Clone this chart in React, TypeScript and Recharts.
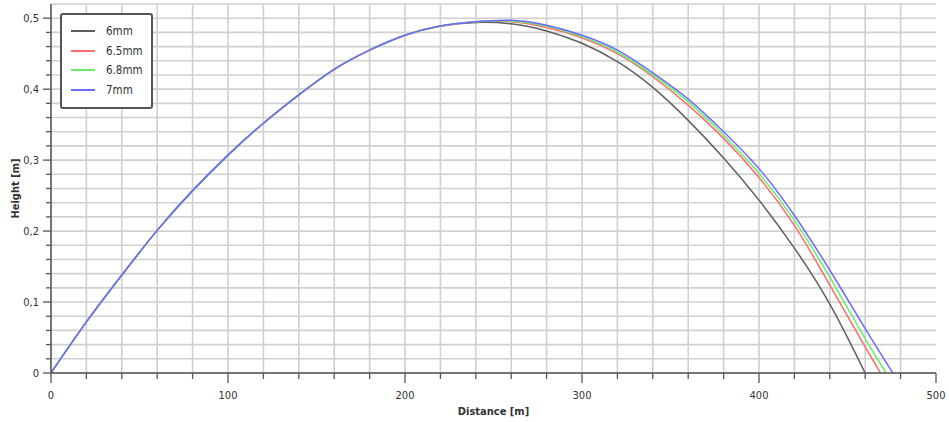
import React from 'react';
import { LineChart, Line, XAxis, YAxis, CartesianGrid, Legend, Label } from 'recharts';

// distance samples [m]
const distances = [0, 20, 40, 60, 80, 100, 120, 140, 160, 180, 200, 220, 240, 260, 280, 300, 320, 340, 360, 380, 400, 420, 440, 460];

// heights [m] per pellet size
const height6mm = [0, 0.072, 0.138, 0.201, 0.257, 0.307, 0.352, 0.392, 0.428, 0.455, 0.476, 0.489, 0.494, 0.492, 0.482, 0.4646, 0.4387, 0.4025, 0.356, 0.303, 0.2436, 0.176, 0.097, 0];
const height65mm = [0, 0.072, 0.138, 0.201, 0.257, 0.307, 0.352, 0.392, 0.428, 0.455, 0.476, 0.489, 0.495, 0.495, 0.487, 0.4725, 0.45, 0.4175, 0.3775, 0.3306, 0.2756, 0.208, 0.124, 0.0367];
const height68mm = [0, 0.072, 0.138, 0.201, 0.257, 0.307, 0.352, 0.392, 0.428, 0.455, 0.476, 0.489, 0.495, 0.496, 0.489, 0.474, 0.452, 0.42, 0.382, 0.335, 0.281, 0.215, 0.135, 0.0485];
const height7mm = [0, 0.072, 0.138, 0.201, 0.257, 0.307, 0.352, 0.392, 0.428, 0.455, 0.476, 0.489, 0.495, 0.497, 0.49, 0.476, 0.455, 0.423, 0.386, 0.34, 0.288, 0.222, 0.145, 0.0626];

const seriesNames = ['6mm', '6.5mm', '6.8mm', '7mm'];
const seriesHeights = [height6mm, height65mm, height68mm, height7mm];
const landingDistance = [460, 468.7, 471.8, 475.6];
const seriesColors = ['#5f5f5f', '#ff6a6a', '#66ee66', '#6b6bff'];

const xTicks = [0, 20, 40, 60, 80, 100, 120, 140, 160, 180, 200, 220, 240, 260, 280, 300, 320, 340, 360, 380, 400, 420, 440, 460, 480, 500];
const yTicks = [0, 0.02, 0.04, 0.06, 0.08, 0.1, 0.12, 0.14, 0.16, 0.18, 0.2, 0.22, 0.24, 0.26, 0.28, 0.3, 0.32, 0.34, 0.36, 0.38, 0.4, 0.42, 0.44, 0.46, 0.48, 0.5];
const gridX = xTicks.filter((v) => v < 500);

const series = seriesNames.map((name, s) => {
  const pts = distances.map((x, i) => ({ x, y: seriesHeights[s][i] }));
  const last = pts[pts.length - 1];
  if (landingDistance[s] > last.x) pts.push({ x: landingDistance[s], y: 0 });
  return { name, color: seriesColors[s], data: pts };
});

const FONT = '"DejaVu Sans Condensed", "DejaVu Sans", sans-serif';
const AXIS = '#555';

const XTick = (props: any) => {
  const { x, y, payload } = props;
  const v = payload.value;
  const major = v % 100 === 0;
  return (
    <g>
      <line x1={x} x2={x} y1={y} y2={y + (major ? 10 : 6)} stroke={AXIS} strokeWidth={1.3} />
      {major && (
        <text x={x} y={y + 22} dy="0.36em" textAnchor="middle" fontFamily={FONT} fontSize={11} fill="#333">
          {v}
        </text>
      )}
    </g>
  );
};

const YTick = (props: any) => {
  const { x, y, payload } = props;
  const v = payload.value;
  const major = Math.abs(v * 10 - Math.round(v * 10)) < 1e-6;
  const label = v === 0 ? '0' : v.toFixed(1).replace('.', ',');
  return (
    <g>
      <line x1={x - (major ? 8 : 5)} x2={x} y1={y} y2={y} stroke={AXIS} strokeWidth={1.3} />
      {major && (
        <text x={x - 12} y={y} dy="0.36em" textAnchor="end" fontFamily={FONT} fontSize={11} fill="#333">
          {label}
        </text>
      )}
    </g>
  );
};

const renderYLabel = (p: any) => {
  const vb = p.viewBox || {};
  const cx = (vb.x || 0) + 15;
  const cy = (vb.y || 0) + (vb.height || 0) / 2;
  return (
    <text x={cx} y={cy} dy="0.36em" textAnchor="middle" transform={`rotate(-90, ${cx}, ${cy})`} fontFamily={FONT} fontSize={11} fontWeight="bold" fill="#333">
      Height [m]
    </text>
  );
};

const renderXLabel = (p: any) => {
  const vb = p.viewBox || {};
  const cx = (vb.x || 0) + (vb.width || 0) / 2;
  const cy = (vb.y || 0) + 38;
  return (
    <text x={cx} y={cy} dy="0.36em" textAnchor="middle" fontFamily={FONT} fontSize={11} fontWeight="bold" fill="#333">
      Distance [m]
    </text>
  );
};

const LegendBox = () => (
  <div
    style={{
      border: '2px solid #555',
      borderRadius: 3,
      background: '#fff',
      width: 89,
      padding: '6px 0 7px 0',
      boxSizing: 'content-box',
    }}
  >
    {series.map((s) => (
      <div key={s.name} style={{ display: 'flex', alignItems: 'center', height: 19.7 }}>
        <div style={{ marginLeft: 9, width: 24, height: 2, background: s.color }} />
        <span style={{ marginLeft: 11, fontFamily: FONT, fontSize: 11.5, color: '#333' }}>{s.name}</span>
      </div>
    ))}
  </div>
);

const gridVertical = (props: any) => {
  const xAxis = props && props.xAxis;
  if (xAxis && typeof xAxis.scale === 'function') return gridX.map((v) => xAxis.scale(v));
  const off = props.offset;
  return gridX.map((v) => off.left + (v / 500) * off.width);
};

export default function App() {
  return (
    <div style={{ position: 'absolute', left: 0, top: 0, background: '#fff' }}>
      <LineChart width={949} height={422} margin={{ top: 4, right: 13, bottom: 0, left: 0 }}>
        <CartesianGrid stroke="#d0d0d0" strokeWidth={1.6} verticalCoordinatesGenerator={gridVertical} />
        <XAxis
          type="number"
          dataKey="x"
          domain={[0, 500]}
          ticks={xTicks}
          interval={0}
          height={49}
          tickSize={0}
          tickMargin={0}
          tickLine={false}
          tick={<XTick />}
          axisLine={{ stroke: AXIS, strokeWidth: 1.5 }}
          allowDuplicatedCategory={false}
        >
          <Label content={renderXLabel} />
        </XAxis>
        <YAxis
          type="number"
          domain={[0, 0.52]}
          ticks={yTicks}
          interval={0}
          width={51}
          tickSize={0}
          tickMargin={0}
          tickLine={false}
          tick={<YTick />}
          axisLine={{ stroke: AXIS, strokeWidth: 1.5 }}
        >
          <Label content={renderYLabel} />
        </YAxis>
        <Legend
          layout="horizontal"
          verticalAlign="middle"
          align="center"
          content={<LegendBox />}
          wrapperStyle={{ position: 'absolute', left: 60, top: 13, width: 'auto', height: 'auto' }}
        />
        {series.map((s) => (
          <Line
            key={s.name}
            data={s.data}
            dataKey="y"
            name={s.name}
            type="natural"
            stroke={s.color}
            strokeWidth={1.5}
            dot={false}
            activeDot={false}
            isAnimationActive={false}
          />
        ))}
      </LineChart>
    </div>
  );
}
